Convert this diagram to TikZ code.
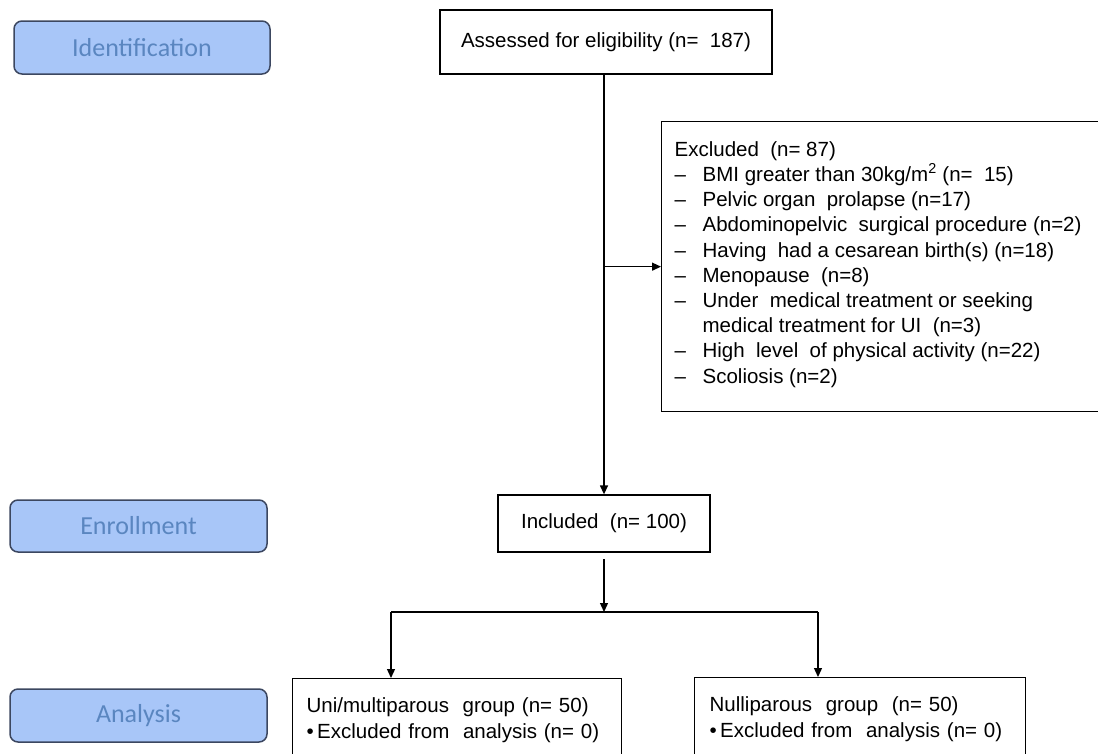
\documentclass[tikz,border=0pt]{standalone}
\usepackage{fontspec}
\setmainfont{Liberation Sans}
\newfontfamily\labelfont{Carlito}
\usetikzlibrary{arrows.meta}
\definecolor{labfill}{HTML}{A8C6F8}
\definecolor{labdraw}{HTML}{3C4760}
\definecolor{labtext}{HTML}{5A86C0}
\tikzset{
  lab/.style={rounded corners=8pt, fill=labfill, draw=labdraw, line width=1.5pt,
    text=labtext, font=\labelfont\fontsize{26}{30}\selectfont, inner sep=0pt},
  box/.style={draw=black, line width=1.3pt, inner sep=0pt,
    font=\fontsize{20.5}{25.2}\selectfont},
  arr/.style={line width=1.3pt, -{Triangle[length=9pt,width=8pt]}},
  ln/.style={line width=1.3pt}
}
\begin{document}
\begin{tikzpicture}[x=1pt,y=-1pt]
\useasboundingbox (0,0) rectangle (1098,753);
% stage labels
\node[lab, minimum width=256pt, minimum height=53pt] (idl) at (142,47.5) {Identification};
\node[lab, minimum width=257pt, minimum height=52pt] (enl) at (138.5,526) {Enrollment};
\node[lab, minimum width=257pt, minimum height=53pt] (anl) at (138.5,715.5) {Analysis};
% main boxes
\node[box, minimum width=332pt, minimum height=64pt] (ass) at (606,42) {Assessed for eligibility (n=\ \ 187)};
\node[box, minimum width=212pt, minimum height=57pt] (inc) at (604,523.5) {Included\ \ (n= 100)};
\node[box, anchor=north west] (excl) at (661,121) {\parbox[c][290pt][t]{445pt}{%
  \parindent=0pt\leftskip=13pt\fontsize{20.5}{25.2}\selectfont
  \vspace*{17pt}%
  \strut Excluded\ \ (n= 87)\par
  \strut\makebox[28pt][l]{–}BMI greater than 30kg/m\textsuperscript{2} (n=\ \ 15)\par
  \strut\makebox[28pt][l]{–}Pelvic organ\ \ prolapse (n=17)\par
  \strut\makebox[28pt][l]{–}Abdominopelvic\ \ surgical procedure (n=2)\par
  \strut\makebox[28pt][l]{–}Having\ \ had a cesarean birth(s) (n=18)\par
  \strut\makebox[28pt][l]{–}Menopause\ \ (n=8)\par
  \strut\makebox[28pt][l]{–}Under\ \ medical treatment or seeking\par
  \strut\hspace*{28pt}medical treatment for UI\ \ (n=3)\par
  \strut\makebox[28pt][l]{–}High\ \ level\ \ of physical activity (n=22)\par
  \strut\makebox[28pt][l]{–}Scoliosis (n=2)\par}};
\node[box, anchor=north west, minimum width=329pt, minimum height=83pt,
      align=left, text width=301pt] (uni) at (292,678)
  {Uni/multiparous\ \ group (n= 50)\\ \textbullet\,Excluded from\ \ analysis (n= 0)};
\node[box, anchor=north west, minimum width=331pt, minimum height=83pt,
      align=left, text width=301pt] (nul) at (694,677)
  {Nulliparous\ \ group\ \ (n= 50)\\ \textbullet\,Excluded from\ \ analysis (n= 0)};
% connectors
\draw[arr] (inc.north |- ass.south) -- (inc.north);
\draw[arr] (excl.west -| inc.north) -- (excl.west);
\coordinate (below) at (604,559);
\coordinate (split) at (604,612);
\coordinate (sl) at (391,612);
\coordinate (sr) at (818,612);
\draw[arr] (below) -- (split);
\draw[ln] (sl) -- (sr);
\draw[arr] (sl) -- (sl |- uni.north);
\draw[arr] (sr) -- (sr |- nul.north);
\end{tikzpicture}
\end{document}
